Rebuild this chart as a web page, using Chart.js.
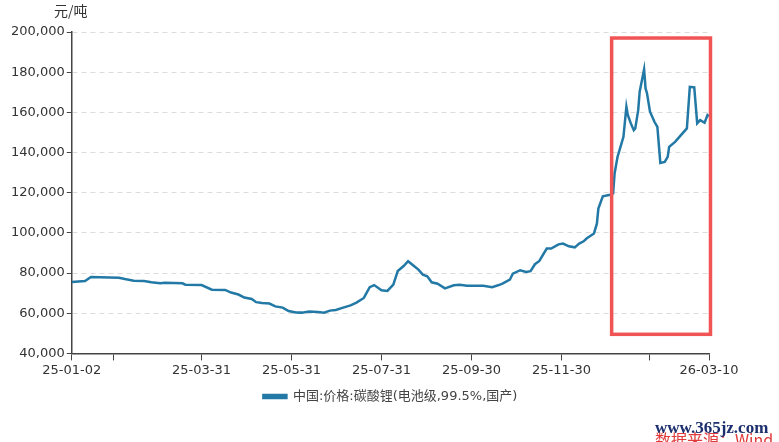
<!DOCTYPE html>
<html>
<head>
<meta charset="utf-8">
<script src="https://cdn.jsdelivr.net/npm/chart.js@4.4.1/dist/chart.umd.min.js"></script>
<style>
  html, body { margin: 0; padding: 0; background: #fff; }
</style>
</head>
<body>
<canvas id="myChart" width="779" height="442"></canvas>
<script>
// 中国:价格:碳酸锂(电池级,99.5%,国产)  元/吨
const dates = [
  '25-01-02','25-01-11','25-01-15','25-02-03','25-02-07','25-02-13','25-02-20','25-02-25',
  '25-03-03','25-03-06','25-03-18','25-03-20','25-03-31','25-04-07','25-04-16','25-04-20',
  '25-04-25','25-04-29','25-05-04','25-05-07','25-05-11','25-05-16','25-05-20','25-05-25',
  '25-05-29','25-06-03','25-06-07','25-06-12','25-06-18','25-06-22','25-06-26','25-06-30',
  '25-07-05','25-07-10','25-07-14','25-07-19','25-07-23','25-07-26','25-07-31','25-08-04',
  '25-08-08','25-08-11','25-08-15','25-08-18','25-08-22','25-08-25','25-08-28','25-08-31',
  '25-09-03','25-09-07','25-09-12','25-09-18','25-09-22','25-09-27','25-10-08','25-10-14',
  '25-10-18','25-10-21','25-10-26','25-10-28','25-11-02','25-11-06','25-11-09','25-11-12',
  '25-11-15','25-11-20','25-11-23','25-11-28','25-12-01','25-12-05','25-12-09','25-12-12',
  '25-12-15','25-12-17','25-12-22','25-12-24','25-12-25','25-12-28','26-01-02','26-01-04',
  '26-01-05','26-01-07','26-01-08','26-01-11','26-01-13','26-01-14','26-01-16','26-01-18',
  '26-01-19','26-01-21','26-01-22','26-01-25','26-01-26','26-01-27','26-01-29','26-02-01',
  '26-02-03','26-02-05','26-02-08','26-02-10','26-02-11','26-02-15','26-02-23','26-02-25',
  '26-02-28','26-03-02','26-03-04','26-03-07','26-03-09','26-03-10'
];
const prices = [
  75500, 76000, 78000, 77700, 77000, 76200, 76000, 75400,
  74900, 75200, 74900, 74200, 74000, 71700, 71600, 70300,
  69300, 67800, 67100, 65500, 65100, 64800, 63400, 62800,
  61100, 60400, 60300, 60800, 60600, 60300, 61300, 61600,
  62800, 63900, 65300, 67600, 73000, 74000, 71400, 71100,
  74200, 81000, 83500, 85900, 83500, 81700, 79200, 78400,
  75400, 74700, 72400, 73900, 74200, 73700, 73700, 73000,
  73900, 74700, 76700, 79700, 81400, 80500, 80900, 84400,
  86000, 92200, 92200, 94300, 94700, 93300, 92800, 94700,
  95800, 97200, 99700, 104600, 112100, 118200, 119000, 119600,
  129600, 137900, 140300, 147800, 162800, 158600, 154500, 151100,
  152000, 161100, 170300, 181400, 171900, 169400, 160300, 155300,
  152800, 134800, 135300, 137800, 142800, 145300, 152000, 172700,
  172400, 154500, 156100, 154800, 158600, 158000
];

// x-axis ticks (some are drawn without a label)
const tickDates = ['25-01-02','25-01-30','25-03-31','25-05-31','25-07-31','25-09-30','25-11-30','26-01-29','26-03-10'];
const tickLabels = ['25-01-02','','25-03-31','25-05-31','25-07-31','25-09-30','25-11-30','','26-03-10'];

const yTicks = [40000, 60000, 80000, 100000, 120000, 140000, 160000, 180000, 200000];

// highlighted box (date range, price range)
const boxDates = ['26-01-03', '26-03-11'];
const boxPrices = [49500, 197000];

const seriesName = '中国:价格:碳酸锂(电池级,99.5%,国产)';
const unitLabel = '元/吨';

function dayNum(s) {
  let p = s.split('-');
  let t = Date.UTC(2000 + parseInt(p[0]), parseInt(p[1]) - 1, parseInt(p[2]));
  let t0 = Date.UTC(2025, 0, 2);
  return Math.round((t - t0) / 86400000);
}

let points = [];
for (let i = 0; i < dates.length; i++) {
  points.push({ x: dayNum(dates[i]), y: prices[i] });
}

const FONT = "'DejaVu Sans', 'Noto Sans CJK SC', sans-serif";
const CJK = "'Noto Sans CJK SC', sans-serif";
const LINE = '#2379a6';

const extras = {
  id: 'extras',
  afterDatasetsDraw(chart) {
    const c = chart.ctx;
    const xs = chart.scales.x, ys = chart.scales.y;
    // red box
    let x1 = xs.getPixelForValue(dayNum(boxDates[0]));
    let x2 = xs.getPixelForValue(dayNum(boxDates[1]));
    let y1 = ys.getPixelForValue(boxPrices[1]);
    let y2 = ys.getPixelForValue(boxPrices[0]);
    c.save();
    c.strokeStyle = '#f05454';
    c.lineWidth = 3.5;
    c.strokeRect(x1, y1, x2 - x1, y2 - y1);
    c.restore();
  },
  afterDraw(chart) {
    const c = chart.ctx;
    const area = chart.chartArea;
    c.save();
    c.fillStyle = '#333';
    c.font = '14px ' + CJK;
    c.textAlign = 'center';
    c.textBaseline = 'middle';
    c.fillText(unitLabel, area.left - 1, area.top - 21);
    // watermark
    c.textAlign = 'left';
    c.textBaseline = 'alphabetic';
    c.fillStyle = '#e03a3a';
    c.font = '16px ' + CJK;
    c.fillText('数据来源：Wind', 655, 446);
    c.fillStyle = '#1c2f6e';
    c.font = 'bold 17px "Liberation Serif", serif';
    c.fillText('www.365jz.com', 655, 433);
    c.restore();
  }
};

const ctx = document.getElementById('myChart');
const myChart = new Chart(ctx, {
  type: 'line',
  data: {
    datasets: [{
      label: seriesName,
      data: points,
      borderColor: LINE,
      backgroundColor: LINE,
      borderWidth: 2.5,
      pointRadius: 0,
      tension: 0
    }]
  },
  options: {
    responsive: false,
    animation: false,
    devicePixelRatio: 1,
    layout: { padding: { top: 32, left: 9, right: 70, bottom: 29 } },
    scales: {
      x: {
        type: 'linear',
        min: 0,
        max: dayNum('26-03-10'),
        afterBuildTicks: (axis) => {
          axis.ticks = tickDates.map(d => ({ value: dayNum(d) }));
        },
        ticks: {
          autoSkip: false,
          maxRotation: 0,
          padding: 2,
          color: '#333',
          font: { size: 13, family: FONT },
          callback: (v, i) => tickLabels[i]
        },
        grid: { drawOnChartArea: false, tickLength: 7, tickColor: '#444', tickWidth: 1 },
        border: { color: '#444', width: 1.5 }
      },
      y: {
        min: 40000,
        max: 200000,
        afterBuildTicks: (axis) => {
          axis.ticks = yTicks.map(v => ({ value: v }));
        },
        ticks: {
          padding: 2,
          color: '#333',
          font: { size: 13, family: FONT },
          callback: (v) => v.toLocaleString('en-US')
        },
        grid: { color: '#dcdcdc', tickLength: 5, tickColor: '#444', tickBorderDash: [] },
        border: { color: '#444', width: 1.5, dash: [5, 4] }
      }
    },
    plugins: {
      legend: {
        position: 'bottom',
        fullSize: false,
        labels: {
          boxWidth: 23,
          boxHeight: 3,
          color: '#444',
          font: { size: 13, family: FONT },
          padding: 10
        }
      },
      tooltip: { enabled: false }
    }
  },
  plugins: [extras]
});
</script>
</body>
</html>
